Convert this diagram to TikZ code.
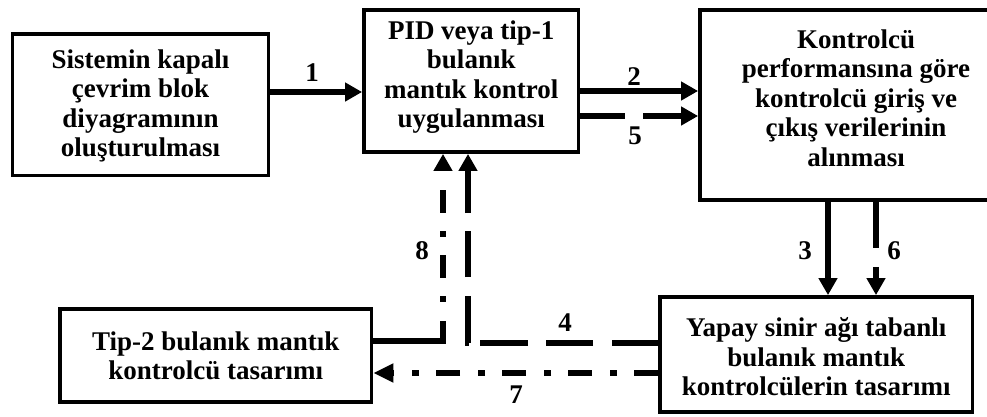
\documentclass[tikz,border=0pt]{standalone}
\usepackage{fontspec}
\setmainfont{Liberation Serif}
\usetikzlibrary{arrows.meta}
\begin{document}
\begin{tikzpicture}[x=1pt,y=-1pt,
  box/.style={draw,line width=3.8pt,inner sep=0pt},
  txt/.style={align=center,inner sep=0pt,font=\bfseries\fontsize{27}{29.5}\selectfont},
  num/.style={inner sep=0pt,font=\bfseries\fontsize{27}{29.5}\selectfont},
  arr/.style={line width=6pt,-{Triangle[length=17pt,width=18pt]}}]
\clip (0,0) rectangle (987,416);
% boxes
\node[box,minimum width=256pt,minimum height=141.5pt] (b1) at (140.5,104.75) {};
\node[box,minimum width=214.5pt,minimum height=142pt] (b2) at (471.25,81) {};
\node[box,minimum width=312pt,minimum height=190pt] (b3) at (856,105) {};
\node[box,minimum width=311.5pt,minimum height=93pt] (b4) at (215.75,355.5) {};
\node[box,minimum width=312.5pt,minimum height=115pt] (b5) at (816.25,354.5) {};
% texts
\node[txt] (t1) at (140.5,106) {Sistemin kapalı\\çevrim blok\\diyagramının\\oluşturulması};
\node[txt] (t2) at (471.25,77) {PID veya tip-1\\bulanık\\mantık kontrol\\uygulanması};
\node[txt] (t3) at (856,98) {Kontrolcü\\performansına göre\\kontrolcü giriş ve\\çıkış verilerinin\\alınması};
\node[txt] (t4) at (215.75,356) {Tip-2 bulanık mantık\\kontrolcü tasarımı};
\node[txt] (t5) at (816.25,357) {Yapay sinir ağı tabanlı\\bulanık mantık\\kontrolcülerin tasarımı};
% connectors
\draw[arr] (b1.east |- 0,92) -- (b2.west |- 0,92);
\draw[arr] (b2.east |- 0,91) -- (b3.west |- 0,91);
\draw[arr,dash pattern=on 45pt off 18pt on 200pt] (b2.east |- 0,116) -- (b3.west |- 0,116);
\draw[arr] (b3.south -| 828,0) -- (b5.north -| 828,0);
\draw[arr,dash pattern=on 46pt off 19pt on 200pt] (b3.south -| 876,0) -- (b5.north -| 876,0);
\draw[arr,dash pattern=on 46pt off 19pt on 47pt off 18pt on 48pt off 12pt on 47pt off 19pt on 46pt off 18pt on 200pt]
  (b5.west |- 0,343) -| (b2.south -| 468,0);
\draw[line width=6pt,-{Triangle[length=20pt,width=18pt]},dash pattern=on 24pt off 17pt on 7pt off 18pt]
  (b5.west |- 0,373) -- (b4.east |- 0,373);
\draw[arr,dash pattern=on 90pt off 19pt on 6pt off 18pt on 23pt off 18pt on 6pt off 18pt on 23pt off 200pt]
  (b4.east |- 0,341) -| (b2.south -| 443,0);
% labels
\node[num] (n1) at (312,73) {1};
\node[num] (n2) at (634,77) {2};
\node[num] (n5) at (635,136) {5};
\node[num] (n3) at (805,251) {3};
\node[num] (n6) at (894,251) {6};
\node[num] (n8) at (422,251) {8};
\node[num] (n4) at (565,323) {4};
\node[num] (n7) at (516,395) {7};
\end{tikzpicture}
\end{document}
